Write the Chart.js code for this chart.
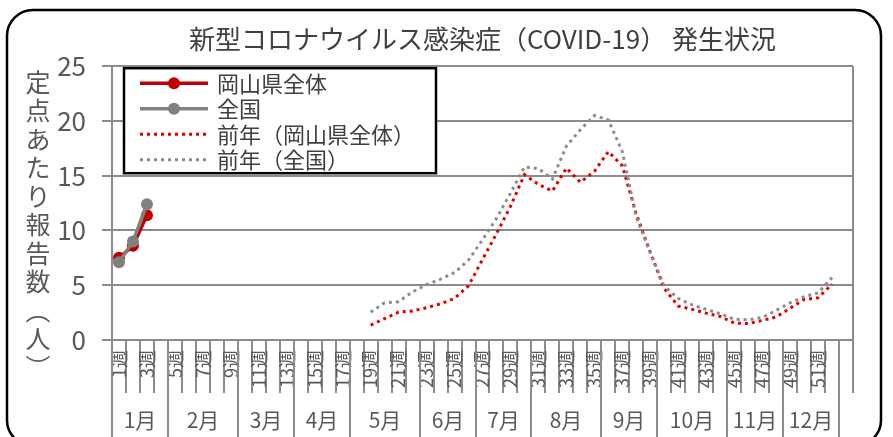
<!DOCTYPE html>
<html><head><meta charset="utf-8">
<script src="https://cdn.jsdelivr.net/npm/chart.js@4/dist/chart.umd.min.js"></script>
<style>html,body{margin:0;padding:0;background:#fff;}#wrap{width:893px;height:437px;}</style>
</head><body><div id="wrap"><canvas id="c" width="893" height="437"></canvas></div>
<script>
const chartTitle = '新型コロナウイルス感染症（COVID-19） 発生状況';
const yAxisTitle = ['定','点','あ','た','り','報','告','数','︵','人','︶'];
const weekLabels = ['1週','2週','3週','4週','5週','6週','7週','8週','9週','10週',
  '11週','12週','13週','14週','15週','16週','17週','18週','19週','20週',
  '21週','22週','23週','24週','25週','26週','27週','28週','29週','30週',
  '31週','32週','33週','34週','35週','36週','37週','38週','39週','40週',
  '41週','42週','43週','44週','45週','46週','47週','48週','49週','50週',
  '51週','52週',''];
const monthLabels = ['1月','2月','3月','4月','5月','6月','7月','8月','9月','10月','11月','12月'];
const monthWeekCounts = [4,5,4,4,5,4,4,5,4,5,4,4];
const seriesNames = ['岡山県全体','全国','前年（岡山県全体）','前年（全国）'];
const N = null;
const okayama = [7.5,8.6,11.4,N,N,N,N,N,N,N, N,N,N,N,N,N,N,N,N,N, N,N,N,N,N,N,N,N,N,N, N,N,N,N,N,N,N,N,N,N, N,N,N,N,N,N,N,N,N,N, N,N,N];
const national = [7.1,9.0,12.4,N,N,N,N,N,N,N, N,N,N,N,N,N,N,N,N,N, N,N,N,N,N,N,N,N,N,N, N,N,N,N,N,N,N,N,N,N, N,N,N,N,N,N,N,N,N,N, N,N,N];
const prevOkayama = [N,N,N,N,N,N,N,N,N,N, N,N,N,N,N,N,N,N,1.35,1.95,
  2.55,2.65,2.95,3.3,3.8,4.95,7.35,9.7,12.2,15.1,
  14.2,13.6,15.7,14.4,15.4,17.2,15.9,11.5,8.0,4.7,
  3.1,2.8,2.45,2.15,1.55,1.5,1.78,2.1,2.9,3.7,
  3.85,5.1,N];
const prevNational = [N,N,N,N,N,N,N,N,N,N, N,N,N,N,N,N,N,N,2.55,3.4,
  3.5,4.4,5.05,5.55,6.15,7.3,9.15,11.1,13.4,15.8,
  15.65,14.7,17.7,19.2,20.5,20.1,17.2,11.2,8.0,4.9,
  3.8,3.2,2.8,2.4,1.9,1.85,2.05,2.7,3.4,3.95,
  4.3,5.7,N];

const FONT = '"Noto Sans CJK JP", "Noto Sans", sans-serif';
const TEXT = '#595959';
const GRID = '#8C8C8C';
const RED = '#C00000';
const GRAY = '#808080';
Chart.defaults.font.family = FONT;
Chart.defaults.color = TEXT;

const framePlugin = {
  id: 'frame',
  beforeDraw(chart) {
    const c = chart.ctx;
    c.save();
    c.fillStyle = '#fff';
    c.fillRect(0, 0, chart.width, chart.height);
    c.strokeStyle = '#000';
    c.lineWidth = 2.5;
    c.beginPath();
    c.roundRect(7, 10, 874, 436, 26);
    c.stroke();
    c.restore();
  },
  afterDatasetsDraw(chart) {
    const a = chart.chartArea, c = chart.ctx;
    c.save();
    c.strokeStyle = GRID; c.lineWidth = 2;
    c.beginPath(); c.moveTo(a.right, a.top); c.lineTo(a.right, a.bottom); c.stroke();
    c.restore();
  }
};

const monthPlugin = {
  id: 'months',
  afterDraw(chart) {
    const xs = chart.scales.x, c = chart.ctx, a = chart.chartArea;
    const w = xs.getPixelForValue(1) - xs.getPixelForValue(0);
    c.save();
    c.strokeStyle = GRID; c.lineWidth = 2;
    c.fillStyle = TEXT;
    c.font = '21px ' + FONT;
    c.textAlign = 'center'; c.textBaseline = 'middle';
    let start = 0;
    const edge = k => Math.round(xs.getPixelForValue(k) - w / 2);
    c.beginPath(); c.moveTo(edge(0), a.bottom); c.lineTo(edge(0), chart.height); c.stroke();
    monthWeekCounts.forEach((n, i) => {
      const x0 = edge(start), x1 = edge(start + n);
      c.beginPath(); c.moveTo(x1, a.bottom); c.lineTo(x1, chart.height); c.stroke();
      c.fillText(monthLabels[i], (x0 + x1) / 2, a.bottom + 80);
      start += n;
    });
    c.restore();
  }
};

const yTitlePlugin = {
  id: 'ytitle',
  afterDraw(chart) {
    const c = chart.ctx;
    c.save();
    c.fillStyle = TEXT;
    c.font = '25px ' + FONT;
    c.textAlign = 'center'; c.textBaseline = 'middle';
    yAxisTitle.forEach((ch, i) => c.fillText(ch, 38, 82 + i * 28.5));
    c.restore();
  }
};

const legendPlugin = {
  id: 'boxlegend',
  afterDraw(chart) {
    const c = chart.ctx, a = chart.chartArea;
    const bx = a.left + 12, by = a.top + 2, bw = 312, bh = 105;
    c.save();
    c.fillStyle = '#fff';
    c.fillRect(bx, by, bw, bh);
    c.strokeStyle = '#000'; c.lineWidth = 2.5;
    c.strokeRect(bx, by, bw, bh);
    chart.data.datasets.forEach((ds, i) => {
      const y = by + 15 + i * 25.5;
      const x0 = bx + 16, x1 = bx + 84;
      c.strokeStyle = ds.borderColor;
      c.lineWidth = ds.borderWidth;
      c.setLineDash(ds.borderDash || []);
      c.beginPath(); c.moveTo(x0, y); c.lineTo(x1, y); c.stroke();
      c.setLineDash([]);
      if (ds.pointRadius > 0) {
        c.fillStyle = ds.pointBackgroundColor;
        c.beginPath(); c.arc((x0 + x1) / 2, y, ds.pointRadius, 0, Math.PI * 2); c.fill();
      }
      c.fillStyle = '#404040';
      c.font = '22px ' + FONT;
      c.textAlign = 'left'; c.textBaseline = 'middle';
      c.fillText(ds.label, bx + 93, y);
    });
    c.restore();
  }
};

new Chart(document.getElementById('c'), {
  type: 'line',
  data: {
    labels: weekLabels,
    datasets: [
      { label: seriesNames[0], data: okayama, borderColor: RED, backgroundColor: RED,
        borderWidth: 3.5, pointRadius: 6, pointBorderWidth: 0, pointBackgroundColor: RED, order: 4 },
      { label: seriesNames[1], data: national, borderColor: GRAY, backgroundColor: GRAY,
        borderWidth: 3.5, pointRadius: 6, pointBorderWidth: 0, pointBackgroundColor: GRAY, order: 3 },
      { label: seriesNames[2], data: prevOkayama, borderColor: '#E00000', borderWidth: 3,
        borderDash: [3, 4], pointRadius: 0, order: 2 },
      { label: seriesNames[3], data: prevNational, borderColor: '#8C8C8C', borderWidth: 3,
        borderDash: [3, 4], pointRadius: 0, order: 1 }
    ]
  },
  options: {
    responsive: false,
    animation: false,
    layout: { padding: { left: 0, right: 40, top: 0, bottom: 0 } },
    plugins: {
      legend: { display: false },
      tooltip: { enabled: false },
      title: { display: true, text: chartTitle, fullSize: false, color: '#404040',
        font: { size: 26, weight: 'normal' }, padding: { top: 24, bottom: 11 } }
    },
    scales: {
      x: {
        type: 'category', offset: true,
        grid: { offset: true, drawOnChartArea: false, drawTicks: true, tickLength: 53, color: GRID, lineWidth: 2 },
        border: { display: true, color: GRID, width: 2 },
        ticks: { autoSkip: false, maxRotation: 90, minRotation: 90, padding: -43, color: TEXT,
          font: { size: 18 }, callback: (v, i) => (i % 2 === 0 ? weekLabels[i] : '') },
        afterFit: s => { s.height = 97; }
      },
      y: {
        min: 0, max: 25,
        ticks: { stepSize: 5, padding: 16, color: TEXT, font: { size: 26 } },
        grid: { color: GRID, lineWidth: 2, tickLength: 10, drawTicks: true },
        border: { display: true, color: GRID, width: 2 },
        afterFit: s => { s.width = 112; }
      }
    }
  },
  plugins: [framePlugin, monthPlugin, yTitlePlugin, legendPlugin]
});
</script>
</body></html>
